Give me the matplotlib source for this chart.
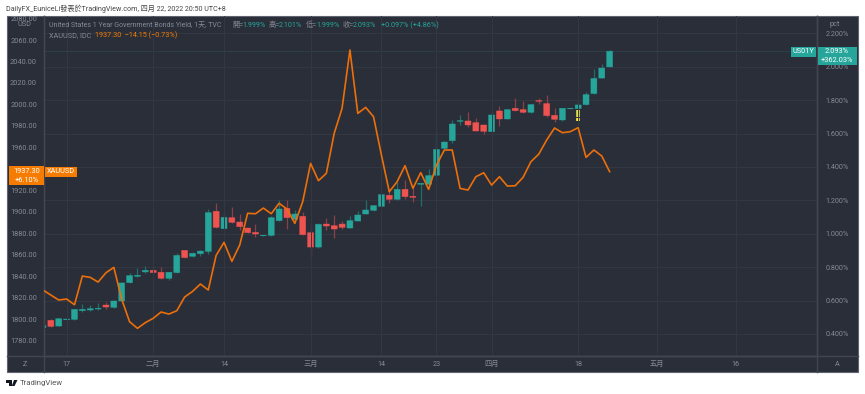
import matplotlib
matplotlib.use('Agg')
import matplotlib.pyplot as plt
from matplotlib.patches import Rectangle, Polygon

plt.rcParams['font.family'] = ['Roboto', 'Noto Sans CJK TC', 'DejaVu Sans']

# US01Y 日线 (pct)
opens = [.437, .481, .447, .485, .487, .539, .543, .549, .573, .559, .597, .707, .745, .771, .781, .769, .733, .767, .900, .865,
         .880, .894, 1.134, 1.030, 1.096, 1.070, 1.034, 1.008, .988, .990, 1.078, 1.152, 1.086, 1.104, 1.006, .920, 1.058, 1.048, 1.058, 1.034,
         1.076, 1.118, 1.140, 1.164, 1.230, 1.206, 1.266, 1.224, 1.296, 1.296, 1.350, 1.511, 1.557, 1.673, 1.675, 1.665, 1.651, 1.611, 1.735, 1.687,
         1.751, 1.743, 1.727, 1.797, 1.779, 1.709, 1.681, 1.749, 1.749, 1.773, 1.839, 1.932, 1.999]
highs = [.451, .491, .493, .491, .549, .577, .573, .583, .589, .601, .713, .763, .797, .807, .799, .799, .773, .886, .902, .892,
         .902, 1.148, 1.182, 1.132, 1.162, 1.116, 1.036, 1.056, .992, 1.106, 1.202, 1.202, 1.142, 1.130, 1.050, 1.066, 1.096, 1.112, 1.078, 1.106,
         1.136, 1.202, 1.172, 1.238, 1.258, 1.312, 1.322, 1.272, 1.306, 1.386, 1.611, 1.553, 1.681, 1.709, 1.727, 1.691, 1.653, 1.737, 1.765, 1.747,
         1.811, 1.793, 1.777, 1.813, 1.831, 1.755, 1.755, 1.753, 1.801, 1.849, 1.986, 2.016, 2.101]
lows = [.435, .443, .445, .484, .485, .529, .537, .543, .551, .557, .593, .705, .739, .763, .763, .731, .723, .765, .855, .863,
        .866, .878, 1.032, 1.028, 1.062, 1.022, 1.004, .978, .986, .988, 1.076, 1.026, 1.082, .992, .863, .912, 1.022, .974, 1.026, 1.032,
        1.074, 1.116, 1.138, 1.162, 1.182, 1.204, 1.206, 1.190, 1.166, 1.294, 1.346, 1.507, 1.545, 1.649, 1.637, 1.613, 1.597, 1.609, 1.647, 1.685,
        1.735, 1.725, 1.725, 1.775, 1.697, 1.669, 1.677, 1.747, 1.747, 1.771, 1.837, 1.930, 1.999]
closes = [.449, .445, .491, .489, .547, .547, .551, .553, .561, .597, .705, .749, .751, .781, .767, .733, .769, .870, .857, .882,
          .896, 1.126, 1.038, 1.098, 1.068, 1.042, 1.006, .998, .990, 1.096, 1.148, 1.096, 1.118, .994, .920, 1.056, 1.046, 1.028, 1.038, 1.078,
          1.112, 1.142, 1.168, 1.234, 1.206, 1.266, 1.222, 1.218, 1.302, 1.348, 1.505, 1.549, 1.657, 1.677, 1.651, 1.615, 1.613, 1.711, 1.687, 1.743,
          1.737, 1.727, 1.773, 1.793, 1.707, 1.685, 1.751, 1.751, 1.771, 1.833, 1.930, 1.992, 2.093]

# XAUUSD 收盘
gold = [1827, 1822.3, 1817.7, 1818.6, 1813.3, 1840, 1838.8, 1834.4, 1843.1, 1848.1,
        1818.4, 1797.5, 1791.3, 1796.6, 1800.6, 1806.5, 1804.6, 1807.7, 1820.5, 1825.7,
        1832.6, 1827, 1859.3, 1871.4, 1853.7, 1869, 1898.5, 1898.1, 1903.4, 1898.1,
        1907.8, 1902.5, 1889.1, 1909.3, 1945, 1928.9, 1935.7, 1973, 1996.3, 2050.7,
        1991.6, 1997.2, 1988.5, 1952.8, 1918.6, 1928, 1942.9, 1921.8, 1936.4, 1920.8,
        1943.5, 1957.5, 1957.5, 1921.7, 1920.2, 1932.6, 1936.3, 1924.8, 1932.6, 1923.9,
        1924.2, 1932, 1946.6, 1953.7, 1966.8, 1978, 1973.6, 1974.6, 1978.3, 1950.6,
        1957.5, 1951.9, 1937.3]

left_ticks = [1780, 1800, 1820, 1840, 1860, 1880, 1900, 1920, 1940, 1960, 1980, 2000, 2020, 2040, 2060, 2080]
right_ticks = [0.4, 0.6, 0.8, 1.0, 1.2, 1.4, 1.6, 1.8, 2.0, 2.2]
date_pos = [3, 14, 23, 34, 43, 50, 57, 68, 78, 88]
date_labels = ['17', '二月', '14', '三月', '14', '23', '四月', '18', '五月', '16']
mark_idx = 68  # 黄色感叹号

W, H = 865, 394
BG = '#2a2e39'
UP = '#26a69a'
DOWN = '#ef5350'
UP_W = '#1f6e6a'
DOWN_W = '#8a4048'
GOLD = '#f57c00'
GOLD_LINE = '#ec6f0a'
LINE = '#434651'
LABEL = '#868a95'
GRID = '#343843'


def fx(p):
    return p / W


def fy(p):
    return 1 - p / H


fig = plt.figure(figsize=(W / 100, H / 100), dpi=100, facecolor='white')
fig.add_artist(Rectangle((fx(6.5), fy(372)), 851.5 / W, 356 / H, transform=fig.transFigure,
                         facecolor=BG, edgecolor='#5f6370', linewidth=0.8))

ax = fig.add_axes([fx(44), fy(356), (817 - 44) / W, (356 - 16) / H])
ax2 = ax.twinx()
ax.set_zorder(2)
ax2.set_zorder(1)
ax.patch.set_visible(False)
ax2.set_facecolor(BG)

# x: i -> 43 + 7.87 i
ax.set_xlim((44 - 43) / 7.87, (817 - 43) / 7.87)
# 左轴 1900 在 y=211.7, 1.073 px/USD
ax.set_ylim(1900 - (356 - 211.7) / 1.073, 1900 + (211.7 - 16) / 1.073)
# 右轴 2.0 在 y=66.7, 167 px/1.0
ax2.set_ylim(2.0 - (356 - 66.7) / 167, 2.0 + (66.7 - 16) / 167)

ax2.set_yticks(right_ticks)
ax2.set_yticklabels(['%.3f%%' % t for t in right_ticks], fontsize=5.2, color=LABEL)
ax2.tick_params(axis='y', length=0, pad=6)
ax.set_yticks(left_ticks)
ax.set_yticklabels(['%.2f' % t for t in left_ticks], fontsize=5.3, color=LABEL)
ax.tick_params(axis='y', length=0, pad=5)
ax.set_xticks(date_pos)
ax.set_xticklabels(date_labels, fontsize=5.2, color=LABEL)
ax.tick_params(axis='x', length=0, pad=3.5)

ax2.grid(True, axis='y', color=GRID, linewidth=0.7)
ax2.set_axisbelow(True)
ax.grid(True, axis='x', color=GRID, linewidth=0.7)
ax.set_axisbelow(True)
for a in (ax, ax2):
    for s in a.spines.values():
        s.set_color(LINE)
        s.set_linewidth(1)
    a.spines['top'].set_visible(False)

# 最新价虚线
ax2.axhline(closes[-1], color=UP, linewidth=0.6, linestyle=(0, (1, 1)), alpha=0.35)

# K线
for i in range(len(opens)):
    up = closes[i] >= opens[i]
    ax2.vlines(i, lows[i], highs[i], color=UP_W if up else DOWN_W, linewidth=0.9, zorder=3)
    lo = min(opens[i], closes[i])
    hi = max(opens[i], closes[i])
    c = UP if up else DOWN
    bars = ax2.bar(i, hi - lo, bottom=lo, width=0.76, color=c, edgecolor=c, linewidth=0.3, zorder=4)
    bars[0].set_snap(False)

# 黄色标记
ax2.plot([mark_idx, mark_idx], [1.697, 1.741], color='#dfe04a', linewidth=2.6, zorder=5, solid_capstyle='butt')
ax2.plot([mark_idx, mark_idx], [1.675, 1.691], color='#ffeb3b', linewidth=2.6, zorder=5, solid_capstyle='butt')

ax.plot(range(len(gold)), gold, color=GOLD_LINE, linewidth=1.2, zorder=6)

# 底部时间轴分隔
fig.add_artist(plt.Line2D([fx(6.5), fx(858)], [fy(356), fy(356)], color=LINE, linewidth=1))
fig.add_artist(plt.Line2D([fx(44), fx(44)], [fy(356), fy(372)], color=LINE, linewidth=1))
fig.add_artist(plt.Line2D([fx(817), fx(817)], [fy(356), fy(372)], color=LINE, linewidth=1))

fig.text(fx(25), fy(364), 'Z', fontsize=5.2, color=LABEL, ha='center', va='center')
fig.text(fx(837), fy(364), 'A', fontsize=5.2, color=LABEL, ha='center', va='center')
fig.text(fx(25), fy(25), 'USD', fontsize=5.3, color=LABEL, ha='center', va='center')
fig.text(fx(835), fy(24), 'pct', fontsize=5.2, color=LABEL, ha='center', va='center')

# 标题
fig.text(fx(6), fy(9), 'DailyFX_EuniceLi發表於TradingView.com, 四月 22, 2022 20:50 UTC+8',
         fontsize=5.15, color='#444444', ha='left', va='center')

# 图例
y1 = fy(25.5)
fig.text(fx(49), y1, 'United States 1 Year Government Bonds Yield, 1天, TVC', fontsize=5.0, color=LABEL, va='center')
legend_items = [(232, '開', '1.999%'), (269, '高', '2.101%'), (306, '低', '1.999%'), (343, '收', '2.093%')]
for x0, k, v in legend_items:
    fig.text(fx(x0), y1, k + '=', fontsize=5.2, color=LABEL, va='center')
    fig.text(fx(x0 + 10), y1, v, fontsize=5.2, color=UP, va='center')
fig.text(fx(381), y1, '+0.097% (+4.86%)', fontsize=5.2, color=UP, va='center')
y2 = fy(35.5)
fig.text(fx(49), y2, 'XAUUSD, IDC', fontsize=5.2, color=LABEL, va='center')
fig.text(fx(95), y2, '1937.30  −14.15 (−0.73%)', fontsize=5.2, color=GOLD, va='center')

# 价格标签
fig.add_artist(Rectangle((fx(9), fy(185)), 35 / W, 19 / H, transform=fig.transFigure, facecolor=GOLD, edgecolor='none', zorder=10))
fig.add_artist(Rectangle((fx(45), fy(177)), 32 / W, 10.5 / H, transform=fig.transFigure, facecolor=GOLD, edgecolor='none', zorder=10))
fig.text(fx(26.5), fy(171.5), '1937.30', fontsize=5.3, color='white', ha='center', va='center', zorder=11)
fig.text(fx(26.5), fy(180), '+6.10%', fontsize=5.3, color='white', ha='center', va='center', zorder=11)
fig.text(fx(61), fy(171.8), 'XAUUSD', fontsize=5.3, color='white', ha='center', va='center', zorder=11)

fig.add_artist(Rectangle((fx(791), fy(56.5)), 25 / W, 10 / H, transform=fig.transFigure, facecolor=UP, edgecolor='none', zorder=10))
fig.add_artist(Rectangle((fx(818), fy(65)), 39 / W, 18 / H, transform=fig.transFigure, facecolor=UP, edgecolor='none', zorder=10))
fig.text(fx(803.5), fy(51.5), 'US01Y', fontsize=5.3, color='white', ha='center', va='center', zorder=11)
fig.text(fx(837), fy(51.5), '2.093%', fontsize=5.3, color='white', ha='center', va='center', zorder=11)
fig.text(fx(837), fy(60.5), '+362.03%', fontsize=5.3, color='white', ha='center', va='center', zorder=11)

# TradingView 标识
logo = '#131722'
tr = fig.transFigure
fig.add_artist(Polygon([(fx(6), fy(380)), (fx(11.5), fy(380)), (fx(11.5), fy(386)), (fx(9), fy(386)),
                        (fx(9), fy(382.5)), (fx(6), fy(382.5))], transform=tr, facecolor=logo, edgecolor='none'))
fig.add_artist(Polygon([(fx(14), fy(380)), (fx(17.5), fy(380)), (fx(14.5), fy(386)), (fx(11.8), fy(386))],
                       transform=tr, facecolor=logo, edgecolor='none'))
fig.text(fx(20), fy(383.5), 'TradingView', fontsize=5.6, color='#555555', va='center')

fig.savefig('out.png', dpi=100, facecolor='white')
